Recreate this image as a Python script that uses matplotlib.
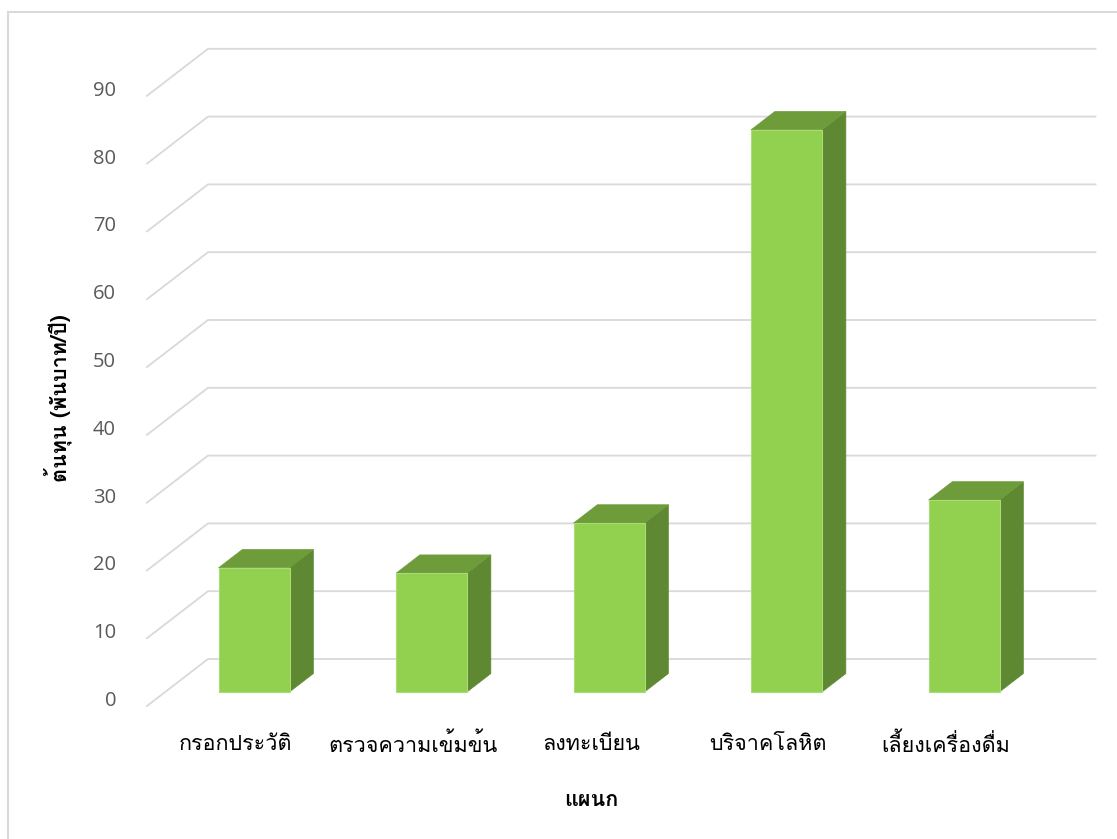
import numpy as np
import matplotlib
matplotlib.use("Agg")
import matplotlib.pyplot as plt
from matplotlib.patches import Polygon, Rectangle
from matplotlib.transforms import offset_copy

# data
departments = ["กรอกประวัติ", "ตรวจความเข้มข้น", "ลงทะเบียน", "บริจาคโลหิต", "เลี้ยงเครื่องดื่ม"]
costs = [18.3, 17.5, 24.9, 82.9, 28.3]
yticks = [0, 10, 20, 30, 40, 50, 60, 70, 80, 90]
ylabel = "ต้นทุน (พันบาท/ปี)"
xlabel = "แผนก"

plt.rcParams['font.family'] = ['Loma', 'DejaVu Sans']
thai = ['Loma', 'DejaVu Sans']
digits = ['Open Sans', 'DejaVu Sans']

W, H, DPI = 1117, 839, 100
fig = plt.figure(figsize=(W / DPI, H / DPI), dpi=DPI)
ax = fig.add_axes([0, 0, 1, 1])
ax.axis("off")

# layout (pixels -> data units)
px_per_cat = 177.5
px_per_val = 6.78
front_x0, front_y0 = 147, 706
ax.set_xlim(-0.5 - front_x0 / px_per_cat, -0.5 + (W - front_x0) / px_per_cat)
ax.set_ylim(-(H - front_y0) / px_per_val, front_y0 / px_per_val)

DX = 61 / px_per_cat   # depth shift in x
DY = 47 / px_per_val   # depth shift in y
n = len(departments)

def proj(x, v, d):
    return (x + d * DX, v + d * DY)

grid_c = "#d9d9d9"
for t in yticks:
    p0 = proj(-0.5, t, 0)
    p1 = proj(-0.5, t, 1)
    p2 = proj(n - 0.5, t, 1)
    ax.plot([p0[0], p1[0], p2[0]], [p0[1], p1[1], p2[1]], color=grid_c, lw=1.3,
            solid_joinstyle="miter", zorder=1)
    tr = offset_copy(ax.transData, fig=fig, x=-31, y=5, units="dots")
    ax.text(p0[0], p0[1], str(t), transform=tr, ha="right", va="center",
            fontsize=14.5, color="#595959", family=digits)

front_c, top_c, side_c = "#92d050", "#6f9c3b", "#5e8831"
d0, d1 = 0.30, 0.69
hw = 0.2
for i, v in enumerate(costs):
    xl, xr = i - hw, i + hw
    front = [proj(xl, 0, d0), proj(xr, 0, d0), proj(xr, v, d0), proj(xl, v, d0)]
    side = [proj(xr, 0, d0), proj(xr, 0, d1), proj(xr, v, d1), proj(xr, v, d0)]
    top = [proj(xl, v, d0), proj(xr, v, d0), proj(xr, v, d1), proj(xl, v, d1)]
    ax.add_patch(Polygon(side, closed=True, fc=side_c, ec=side_c, lw=0.5, zorder=3))
    ax.add_patch(Polygon(top, closed=True, fc=top_c, ec=top_c, lw=0.5, zorder=3))
    ax.add_patch(Polygon(front, closed=True, fc=front_c, ec="#a9dc74", lw=0.8, zorder=4))

# category labels
tr = offset_copy(ax.transData, fig=fig, x=0, y=-39, units="dots")
for i, name in enumerate(departments):
    ax.text(i, 0, name, transform=tr, ha="center", va="center", fontsize=15.5,
            color="#000000", family=thai)

fig.text(590.75 / W, 1 - 800 / H, xlabel, ha="center", va="center", fontsize=15.5,
         fontweight="bold", family=thai)
fig.text(58 / W, 1 - 398 / H, ylabel, ha="center", va="center", rotation=90,
         fontsize=15.5, fontweight="bold", family=thai)

# chart border
fig.patches.append(Rectangle((8 / W, -0.01), 1.02, 1 - 12 / H + 0.01, transform=fig.transFigure,
                             fill=False, ec="#d9d9d9", lw=1.5))

fig.savefig("out.png", dpi=DPI)
